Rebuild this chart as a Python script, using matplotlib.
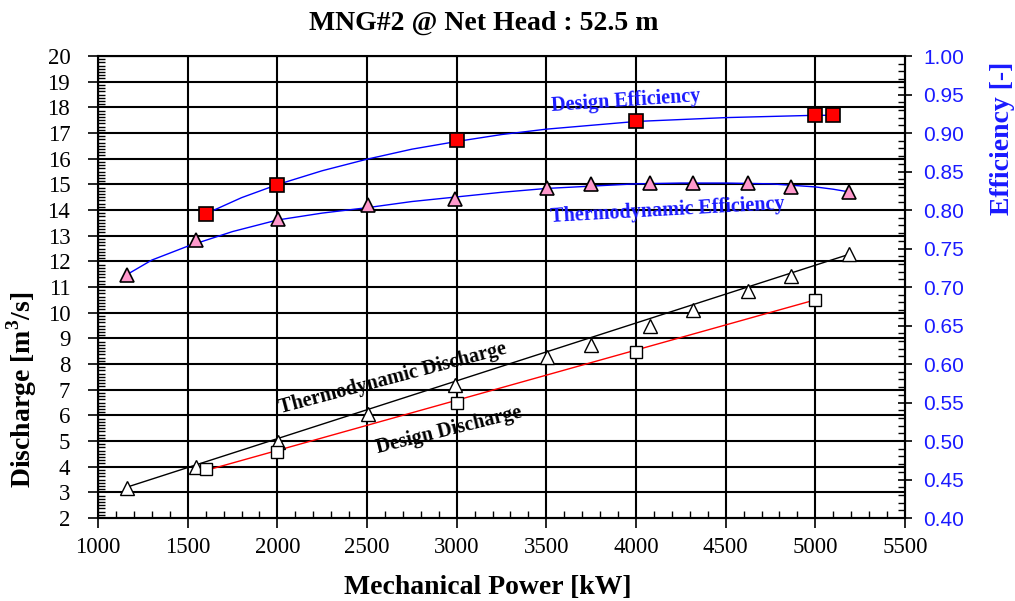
import numpy as np
from matplotlib import pyplot as plt
from matplotlib.ticker import MultipleLocator

# discharge data (left axis)
thermo_q_power = [1160, 1545, 2005, 2506, 2988, 3506, 3747, 4076, 4318, 4624, 4865, 5190]
thermo_q = [3.16, 3.98, 4.97, 6.05, 7.18, 8.26, 8.73, 9.48, 10.09, 10.83, 11.43, 12.28]
thermo_q_line_x = [1160, 5200]
thermo_q_line_y = [3.2, 12.3]

design_q_power = [1600, 2000, 3000, 4000, 5000]
design_q = [3.90, 4.58, 6.49, 8.48, 10.49]
design_q_line_x = [1600, 5000]
design_q_line_y = [3.85, 10.5]

# efficiency data (right axis)
design_eff_power = [1600, 2000, 3000, 4000, 5000, 5100]
design_eff = [0.795, 0.833, 0.891, 0.916, 0.923, 0.923]
design_eff_curve_x = [1600, 1800, 2000, 2250, 2500, 2750, 3000, 3250, 3500, 4000, 4500, 5000, 5100]
design_eff_curve_y = [0.795, 0.816, 0.833, 0.851, 0.866, 0.879, 0.889, 0.898, 0.905, 0.915, 0.920, 0.923, 0.923]

thermo_eff_power = [1160, 1545, 2005, 2506, 2988, 3506, 3747, 4076, 4318, 4624, 4865, 5190]
thermo_eff = [0.716, 0.761, 0.788, 0.806, 0.814, 0.828, 0.834, 0.835, 0.835, 0.835, 0.830, 0.824]
thermo_eff_curve_x = [1160, 1300, 1500, 1750, 2000, 2250, 2500, 2750, 3000, 3250, 3500,
                      3750, 4000, 4250, 4500, 4750, 5000, 5100, 5200]
thermo_eff_curve_y = [0.716, 0.735, 0.753, 0.772, 0.787, 0.796, 0.803, 0.811, 0.817, 0.823, 0.828,
                      0.831, 0.834, 0.835, 0.835, 0.834, 0.830, 0.827, 0.823]

serif = 'Liberation Serif'
blue = '#1a1aff'
plt.rcParams['mathtext.fontset'] = 'custom'
plt.rcParams['mathtext.rm'] = 'Liberation Serif:bold'
plt.rcParams['mathtext.bf'] = 'Liberation Serif:bold'

fig = plt.figure(figsize=(10.15, 6.01), dpi=100)
ax = fig.add_axes([0.0966, 0.1381, 0.7950, 0.7687])
ax2 = ax.twinx()

ax.plot(thermo_q_line_x, thermo_q_line_y, color='black', lw=1)
ax.plot(design_q_line_x, design_q_line_y, color='red', lw=1)
ax.plot(thermo_q_power, thermo_q, ls='none', marker='^', ms=9.5, mfc='white', mec='black', mew=1)
ax.plot(design_q_power, design_q, ls='none', marker='s', ms=8.5, mfc='white', mec='black', mew=1)

ax2.plot(design_eff_curve_x, design_eff_curve_y, color='blue', lw=1)
ax2.plot(thermo_eff_curve_x, thermo_eff_curve_y, color='blue', lw=1)
ax2.plot(design_eff_power, design_eff, ls='none', marker='s', ms=9.5, mfc='red', mec='black', mew=1.2)
ax2.plot(thermo_eff_power, thermo_eff, ls='none', marker='^', ms=10.5, mfc='#ff99cc', mec='black', mew=1.2)

ax.set_xlim(1000, 5500)
ax.set_ylim(2, 20)
ax2.set_ylim(0.40, 1.00)

ax.xaxis.set_major_locator(MultipleLocator(500))
ax.xaxis.set_minor_locator(MultipleLocator(100))
ax.yaxis.set_major_locator(MultipleLocator(1))
ax.yaxis.set_minor_locator(MultipleLocator(0.125))
ax2.yaxis.set_major_locator(MultipleLocator(0.05))
ax2.yaxis.set_minor_locator(MultipleLocator(0.01))

ax.grid(True, which='major', color='black', lw=1.5)
for s in ax.spines.values():
    s.set_linewidth(1.5)

ax.tick_params(which='major', direction='out', length=7, width=1.2)
ax.tick_params(which='minor', direction='in', length=5, width=1)
ax.tick_params(axis='both', which='major', labelsize=16.5)
ax.tick_params(axis='x', which='major', pad=7)
ax.tick_params(axis='y', which='major', pad=13)
ax2.tick_params(which='major', direction='inout', length=10, width=1.2, colors='black',
                labelcolor=blue, labelsize=15, pad=8)
ax2.tick_params(which='minor', direction='in', length=5, width=1)
for lab in ax.get_xticklabels() + ax.get_yticklabels():
    lab.set_family(serif)
for lab in ax2.get_yticklabels():
    lab.set_family('Liberation Sans')
ax2.yaxis.set_major_formatter(lambda v, p: f"{v:.2f}")

ax.set_xlabel("Mechanical Power [kW]", fontsize=20, fontweight='bold', family=serif)
ax.xaxis.set_label_coords(0.483, -0.123)
ax.set_ylabel(r"Discharge [m$^3$/s]", fontsize=20, fontweight='bold', family=serif)
ax.yaxis.set_label_coords(-0.073, 0.278)
ax2.set_ylabel("Efficiency [-]", fontsize=20, fontweight='bold', family=serif, color=blue)
ax2.yaxis.set_label_coords(1.105, 0.822)
fig.text(484 / 1015, 1 - 23 / 601, "MNG#2 @ Net Head : 52.5 m", fontsize=20, fontweight='bold',
         family=serif, ha='center', va='center')

ax.text(2643, 7.44, "Thermodynamic Discharge", rotation=14.8, ha='center', va='center',
        fontsize=14.5, fontweight='bold', family=serif)
ax.text(2959, 5.43, "Design Discharge", rotation=14, ha='center', va='center',
        fontsize=14.5, fontweight='bold', family=serif)
ax.text(3942, 18.26, "Design Efficiency", rotation=3.8, ha='center', va='center',
        fontsize=14.5, fontweight='bold', family=serif, color=blue)
ax.text(4178, 14.0, "Thermodynamic Efficiency", rotation=3.2, ha='center', va='center',
        fontsize=14.5, fontweight='bold', family=serif, color=blue)

plt.savefig('out.png', dpi=100)
